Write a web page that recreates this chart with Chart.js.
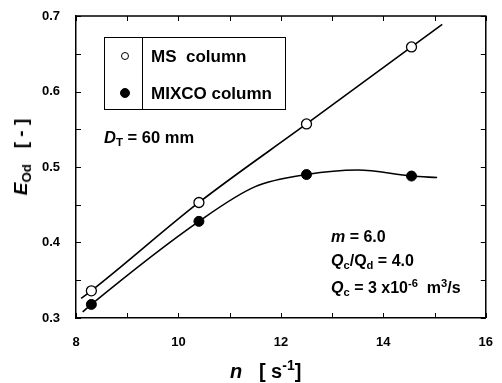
<!DOCTYPE html>
<html>
<head>
<meta charset="utf-8">
<script src="https://cdn.jsdelivr.net/npm/chart.js@4"></script>
<style>
  html, body { margin: 0; padding: 0; background: #fff; }
  #wrap { position: relative; width: 502px; height: 383px; font-family: "Liberation Sans", Arial, sans-serif; font-weight: bold; color: #000; }
  canvas { position: absolute; left: 0; top: 0; }
  .txt { position: absolute; white-space: nowrap; line-height: 1; }
  .txt i { font-style: italic; }
  .txt sub { font-size: 70%; vertical-align: -0.3em; line-height: 0; }
  .txt sup { font-size: 70%; vertical-align: 0.55em; line-height: 0; }
  #legend { position: absolute; left: 104px; top: 37px; width: 180px; height: 71px; border: 1px solid #000; background: #fff; }
  #legend .div { position: absolute; left: 37px; top: 0; bottom: 0; border-left: 1.5px solid #000; }
  #legend .mk { position: absolute; left: 16px; width: 8px; height: 8px; border-radius: 50%; border: 1px solid #000; box-sizing: border-box; }
  #legend .lb { position: absolute; left: 46px; font-size: 17px; line-height: 1; }
  #ylab { position: absolute; left: 22px; top: 157px; transform: translate(-50%, -50%) rotate(-90deg); font-size: 19px; white-space: nowrap; }
</style>
</head>
<body>
<div id="wrap">
  <canvas id="c" width="502" height="383"></canvas>
  <div id="legend">
    <div class="div"></div>
    <div class="mk" style="top:14px;background:#fff"></div>
    <div class="lb" style="top:10px">MS&nbsp;&nbsp;column</div>
    <div class="mk" style="top:50px;background:#000;width:10px;height:10px;left:15px"></div>
    <div class="lb" style="top:47px">MIXCO column</div>
  </div>
  <div class="txt" style="left:104px;top:129px;font-size:16.5px"><i>D</i><sub>T</sub> = 60 mm</div>
  <div class="txt" style="left:331px;top:229px;font-size:16px"><i>m</i> = 6.0</div>
  <div class="txt" style="left:331px;top:253px;font-size:16px"><i>Q</i><sub>c</sub>/Q<sub>d</sub> = 4.0</div>
  <div class="txt" style="left:331px;top:280px;font-size:16px"><i>Q</i><sub>c</sub> = 3 x10<sup>-6</sup>&nbsp;&nbsp;m<sup>3</sup>/s</div>
  <div id="ylab"><i>E</i><sub style="font-size:70%;vertical-align:-0.3em">Od</sub>&nbsp;&nbsp;&nbsp;[ - ]</div>
  <div class="txt" style="left:230px;top:361px;font-size:20px"><i>n</i>&nbsp;&nbsp;&nbsp;[ s<sup>-1</sup>]</div>
</div>
<script>
// measured points
const nValues = [8.3, 10.4, 12.5, 14.55];
const msEod = [0.336, 0.453, 0.557, 0.659];
const mixcoEod = [0.318, 0.428, 0.490, 0.488];

// fitted curves
const msFitN = [8.1, 8.3, 10.4, 12.5, 14.55, 15.15];
const msFitE = [0.326, 0.336, 0.453, 0.557, 0.659, 0.689];
const mixFitN = [8.13, 8.3, 10.4, 11.5, 12.5, 13.5, 14.55, 15.05];
const mixFitE = [0.308, 0.318, 0.428, 0.474, 0.490, 0.496, 0.488, 0.486];

// axis ticks
const xMajor = [8, 10, 12, 14, 16];
const xMinor = [9, 11, 13, 15];
const yMajor = [0.3, 0.4, 0.5, 0.6, 0.7];
const yMinor = [0.35, 0.45, 0.55, 0.65];

const pts = (xs, ys) => xs.map((x, i) => ({ x, y: ys[i] }));

// inward ticks on all four sides + top/right frame
const frameTicks = {
  id: 'frameTicks',
  afterDatasetsDraw(chart) {
    const { ctx, chartArea: a, scales: { x, y } } = chart;
    ctx.save();
    ctx.strokeStyle = '#000';
    ctx.lineWidth = 1.5;
    ctx.beginPath();
    ctx.moveTo(a.left, a.top); ctx.lineTo(a.right, a.top); ctx.lineTo(a.right, a.bottom);
    ctx.stroke();
    ctx.lineWidth = 1;
    ctx.beginPath();
    [...xMajor, ...xMinor].forEach(v => {
      const px = Math.round(x.getPixelForValue(v)) + 0.5;
      ctx.moveTo(px, a.bottom); ctx.lineTo(px, a.bottom - 5);
      ctx.moveTo(px, a.top); ctx.lineTo(px, a.top + 5);
    });
    [...yMajor, ...yMinor].forEach(v => {
      const py = Math.round(y.getPixelForValue(v)) + 0.5;
      ctx.moveTo(a.left, py); ctx.lineTo(a.left + 5, py);
      ctx.moveTo(a.right, py); ctx.lineTo(a.right - 5, py);
    });
    ctx.stroke();
    ctx.restore();
  }
};

new Chart(document.getElementById('c'), {
  type: 'scatter',
  data: {
    datasets: [
      { data: pts(msFitN, msFitE), showLine: true, borderColor: '#000', borderWidth: 1.6,
        pointRadius: 0, cubicInterpolationMode: 'monotone', order: 3 },
      { data: pts(mixFitN, mixFitE), showLine: true, borderColor: '#000', borderWidth: 1.6,
        pointRadius: 0, cubicInterpolationMode: 'monotone', order: 3 },
      { label: 'MS column', data: pts(nValues, msEod), pointRadius: 5, pointBorderWidth: 1.3,
        pointBackgroundColor: '#fff', pointBorderColor: '#000', order: 1 },
      { label: 'MIXCO column', data: pts(nValues, mixcoEod), pointRadius: 5, pointBorderWidth: 1,
        pointBackgroundColor: '#000', pointBorderColor: '#000', order: 1 }
    ]
  },
  options: {
    responsive: false,
    animation: false,
    events: [],
    layout: { padding: { left: 0, top: 16, right: 10, bottom: 0 } },
    plugins: { legend: { display: false }, tooltip: { enabled: false } },
    scales: {
      x: {
        type: 'linear', min: 8, max: 16,
        afterFit: s => { s.height = 65; },
        grid: { display: false },
        border: { display: true, color: '#000', width: 1.5 },
        ticks: { stepSize: 2, padding: 9, color: '#000', maxRotation: 0,
          font: { family: 'Liberation Sans', size: 13, weight: 'bold' } }
      },
      y: {
        type: 'linear', min: 0.3, max: 0.7,
        afterFit: s => { s.width = 76; },
        grid: { display: false },
        border: { display: true, color: '#000', width: 1.5 },
        ticks: { stepSize: 0.1, padding: 8, color: '#000',
          callback: v => v.toFixed(1),
          font: { family: 'Liberation Sans', size: 13, weight: 'bold' } }
      }
    }
  },
  plugins: [frameTicks]
});
</script>
</body>
</html>
